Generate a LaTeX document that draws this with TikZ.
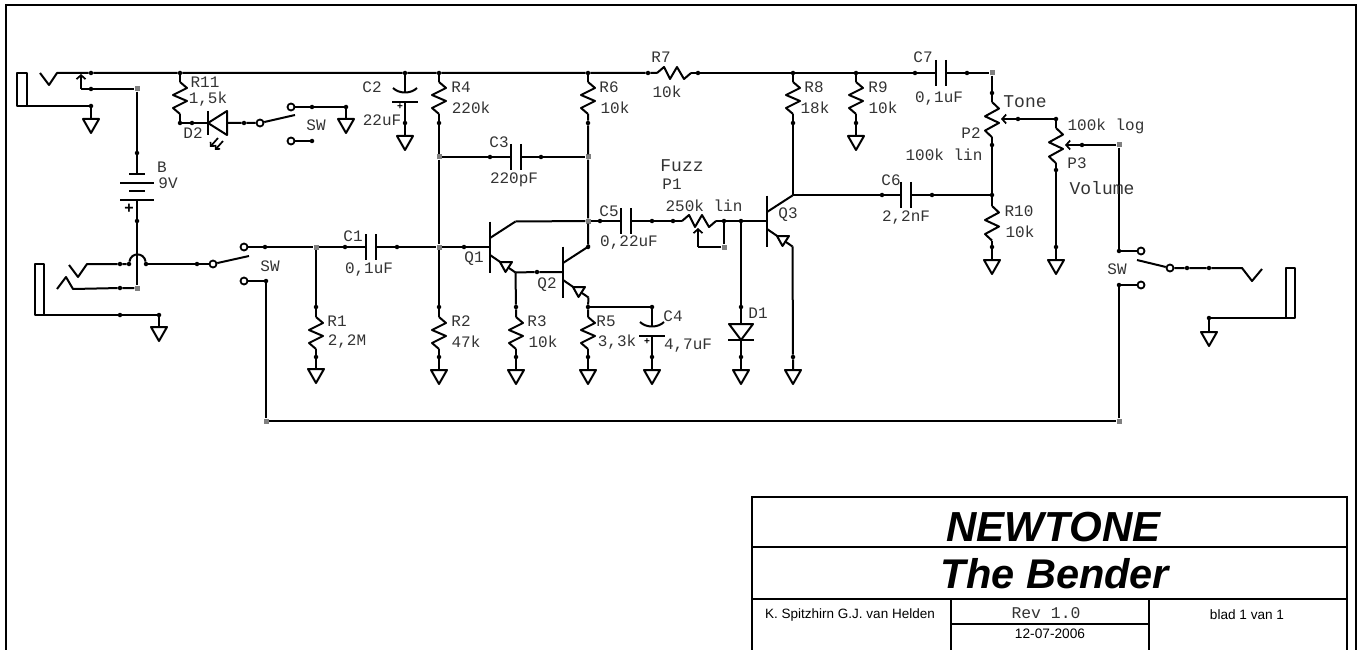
\documentclass[tikz,border=0pt]{standalone}
\usepackage{fontspec}
\setmainfont{Liberation Sans}
\newfontfamily\labfont{Liberation Mono}
\usetikzlibrary{arrows.meta}
\tikzset{
  wire/.style={line width=2pt,line join=round},
  frameline/.style={line width=2pt},
  wiper/.style={wire,-{Straight Barb[length=4pt,width=9pt,line width=1.7pt]}},
  tic/.style={circle,fill=black,inner sep=0pt,minimum size=4.5pt},
  junc/.style={rectangle,fill=black!50,inner sep=0pt,minimum size=5pt},
  cont/.style={circle,draw,fill=white,line width=1.8pt,inner sep=0pt,minimum size=7pt},
  tag/.style={inner sep=0pt,text=black!80,font=\labfont\fontsize{16}{16}\selectfont},
  bigtag/.style={tag,font=\labfont\fontsize{18}{18}\selectfont},
  polar/.style={inner sep=0pt,font=\bfseries\fontsize{10}{10}\selectfont},
  pics/resv/.style={code={
    \coordinate (-a) at (0,0); \coordinate (-b) at (0,32);
    \draw[wire] (-a) -- (7,6) -- (-7,13) -- (7,19) -- (-7,26) -- (-b); }},
  pics/resh/.style={code={
    \coordinate (-a) at (0,0); \coordinate (-b) at (34,0);
    \draw[wire] (-a) -- (7,-6) -- (13,6) -- (20,-6) -- (27,6) -- (-b); }},
  pics/caph/.style={code={
    \coordinate (-a) at (0,0); \coordinate (-b) at (10,0);
    \draw[wire] (0,-13) -- (0,13) (10,-13) -- (10,13); }},
  pics/capel/.style={code={
    \coordinate (-a) at (0,0); \coordinate (-b) at (0,9);
    \draw[wire] (-12,-5) .. controls (-6,1) and (6,1) .. (12,-5);
    \draw[wire] (-13,9) -- (13,9); }},
  pics/gnd/.style={code={
    \coordinate (-a) at (0,0);
    \draw[wire] (-a) -- (-8,0) -- (0,14) -- (8,0) -- cycle; }},
  pics/npn/.style={code={
    \coordinate (-b) at (0,0); \coordinate (-c) at (25.5,-25.5); \coordinate (-e) at (25.5,25.5);
    \draw[wire] (0,-25.5) -- (0,25.5);
    \draw[wire] (0,-9) -- (-c);
    \draw[wire] (0,8) -- (-e);
    \draw[wire,fill=white] (10,15) -- (22,15) -- (15.5,25) -- cycle; }},
  pics/diodev/.style={code={
    \coordinate (-a) at (0,0); \coordinate (-b) at (0,16);
    \draw[wire] (-12,0) -- (12,0) -- (0,16) -- cycle;
    \draw[wire] (-13,16) -- (13,16); }},
  pics/ledh/.style={code={
    \coordinate (-a) at (0,0); \coordinate (-b) at (19,0);
    \draw[wire] (0,-12) -- (0,12);
    \draw[wire] (0,0) -- (19,-12) -- (19,12) -- cycle;
    \draw[wire,line width=1.7pt,-{Straight Barb[length=3pt,width=6pt]}] (10,15) -- (2,24);
    \draw[wire,line width=1.7pt,-{Straight Barb[length=3pt,width=6pt]}] (15,18) -- (7,27); }},
  pics/batt/.style={code={
    \coordinate (-a) at (0,0); \coordinate (-b) at (0,26);
    \draw[wire] (-8,0) -- (8,0) (-17,9) -- (17,9) (-8,17) -- (8,17) (-17,26) -- (17,26); }}
}
\begin{document}
\begin{tikzpicture}[x=1pt,y=-1pt]
  \useasboundingbox (0,0) rectangle (1358,650);
  \draw[frameline,line width=2.2pt] (6,660) -- (6,5) -- (1356,5) -- (1356,660);
  % title block
  \draw[frameline] (752,660) -- (752,497) -- (1347,497) -- (1347,660);
  \draw[frameline] (752,547) -- (1347,547) (752,599) -- (1347,599);
  \draw[frameline] (951,599) -- (951,660) (1149,599) -- (1149,660) (951,624) -- (1149,624);
  \node[inner sep=0pt,font=\bfseries\itshape\fontsize{42}{42}\selectfont] (newtone) at (1053.5,527) {NEWTONE};
  \node[inner sep=0pt,font=\bfseries\itshape\fontsize{41.5}{42}\selectfont] (bender) at (1055,574) {The Bender};
  \node[inner sep=0pt,font=\fontsize{13.5}{13.5}\selectfont] (names) at (850,615) {K. Spitzhirn G.J. van Helden};
  \node[inner sep=0pt,font=\fontsize{13.7}{13.7}\selectfont] (date) at (1050,634) {12-07-2006};
  \node[inner sep=0pt,font=\fontsize{13.6}{13.6}\selectfont] (blad) at (1247,615) {blad 1 van 1};
  \node[tag,font=\labfont\fontsize{16.4}{16.4}\selectfont] (rev) at (1046,613) {Rev 1.0};
  % parts
  \foreach \n/\x/\y in {R11/180/82,R4/439/82,R6/588/82,R8/793/82,R9/856/82,R1/316/317,R2/439/317,R3/516/317,R5/588/317}
    \pic (\n) at (\x,\y) {resv};
  \pic[yscale=1.08] (R10) at (992,206) {resv};
  \pic[yscale=1.1] (P2) at (992,102) {resv};
  \pic[yscale=1.1] (P3) at (1056,128) {resv};
  \pic (R7) at (657,73) {resh};
  \pic (P1) at (682,221) {resh};
  \foreach \n/\x/\y in {C1/366/247,C3/511/157,C5/621/221,C6/901/195,C7/936/73}
    \pic (\n) at (\x,\y) {caph};
  \pic (C2) at (405,93) {capel};
  \pic (C4) at (652,327) {capel};
  \pic (Q1) at (490,247) {npn};
  \pic (Q2) at (563,272) {npn};
  \pic (Q3) at (767,221) {npn};
  \pic (D1) at (741,324) {diodev};
  \pic (D2) at (208,123) {ledh};
  \pic (B) at (137,174) {batt};
  \foreach \n/\x/\y in {g1/91/119,g2/159/327,g3/346/119,g4/405/136,g5/316/369,g6/439/370,g7/516/370,g8/588/370,
      g9/652/370,g10/741/370,g11/793/370,g12/856/136,g13/992/260,g14/1056/260,g15/1209/332}
    \pic (\n) at (\x,\y) {gnd};
  % points on the wires
  \foreach \n/\x/\y in {ta1/91/73,ta2/91/89,ta3/91/106,tb1/137/153,tb2/137/221,tg/120/315,tg2/159/315,th1/120/264,th2/129/264,th3/146/264,
      th4/197/264,ti/120/288,tj1/265/247,tj2/345/247,tj3/397/247,tk/266/281,tm/1119/285,tr1a/316/307,tr1b/316/357,
      t11a/180/73,t11b/180/123,t11c/192/123,tl1/244/123,tl2/312/107,tl3/346/107,tl4/312/141,tc2a/405/73,tc2b/405/123,
      t4a/439/73,t4b/439/123,t2a/439/307,t2b/439/357,tc3a/490/157,tc3b/541/157,t6a/588/73,t6b/588/123,tq2c/588/247,
      tq1b/464/247,t3a/516/307,t3b/516/357,tq2b/537/272,t5a/588/307,t5b/588/357,tc4a/652/307,tc4b/652/357,
      tc5a/600/221,tc5b/652/221,tp1a/673/221,tp1b/724/221,td1/741/221,td1a/741/307,td1b/741/357,
      t7a/648/73,t7b/698/73,t8a/793/73,t8b/793/123,t9a/856/73,t9b/856/123,tc7a/915/73,tc7b/967/73,
      tc6a/882/195,tc6b/932/195,tp2a/992/93,tp2b/992/145,tr10/992/195,tr10b/992/247,tw2a/1056/119,tw2b/1018/119,
      tp3b/1056/170,tp3c/1056/247,tw3/1082/145,tsw/1119/251,tq3/793/357,ts1/1187/268,ts2/1209/268,ts3/1209/318}
    \node[tic] (\n) at (\x,\y) {};
  \foreach \n/\x/\y in {jb1/137/89,jb2/137/288,jr1/316/247,jq1/439/247,jc3a/439/157,jc3b/588/157,jq1c/588/221,
      jp1/724/247,jc7/992/73,jw3/1119/145,jka/266/421,jkb/1119/421}
    \node[junc] (\n) at (\x,\y) {};
  \foreach \n/\x/\y in {swa/213/264,swb/244/247,swc/244/281,swd/260/123,swe/291/107,swf/291/141,
      swg/1141/251,swh/1141/285,swi/1170/268}
    \node[cont] (\n) at (\x,\y) {};
  % free ends and corners
  \foreach \n/\x/\y in {va/40/73,vb/49/85,vc/57/73,wa/81/89,wb/81/74,vd/69/265,ve/78/277,vf/87/264,vg/57/289,vh/66/277,vi/73/289,
      arma/249/256,armb/295/115,armc/1137/260,cq/793/195,wp/698/247,wq/698/228,wr/1001/119,ws/1065/145,
      vj/1242/268,vk/1252/281,vl/1262/269,ja/17/73,jb/27/106,jc/35/264,jd/43.5/315,je/1286/268,jf/1295/318}
    \coordinate (\n) at (\x,\y);
  \begin{scope}[wire]
    % sleeves
    \draw (ja) rectangle (jb);
    \draw (jc) rectangle (jd);
    \draw (je) rectangle (jf);
    % +9V rail
    \draw (va) -- (vb) -- (vc) -- (ta1) -- (t11a) -- (tc2a) -- (t4a) -- (t6a) -- (t7a) -- (R7-a);
    \draw (R7-b) -- (t7b) -- (t8a) -- (t9a) -- (tc7a) -- (C7-a);
    \draw (C7-b) -- (tc7b) -- (jc7) -- (tp2a) -- (P2-a);
    \draw (jb -| ja) -- (ta3) -- (g1-a);
    \draw (wa) -- (ta2) -- (jb1) -- (tb1) -- (B-a);
    \draw (B-b) -- (tb2) -- (jb2);
    % input
    \draw (jd -| jc) -- (tg) -- (tg2) -- (g2-a);
    \draw (vd) -- (ve) -- (vf) -- (th1) -- (th2);
    \draw (th2) .. controls (131,252) and (144,252) .. (th3);
    \draw (th3) -- (th4) -- (swa);
    \draw (vg) -- (vh) -- (vi) -- (ti) -- (jb2);
    \draw (swa) -- (arma);
    \draw (swb) -- (tj1) -- (jr1) -- (tj2) -- (C1-a);
    \draw (C1-b) -- (tj3) -- (jq1);
    \draw (swc) -- (tk) -- (jka) -- (jkb) -- (tm) -- (swh);
    \draw (jr1) -- (tr1a) -- (R1-a);
    \draw (R1-b) -- (tr1b) -- (g5-a);
    % led
    \draw (t11a) -- (R11-a);
    \draw (R11-b) -- (t11b) -- (t11c) -- (D2-a);
    \draw (D2-b) -- (tl1) -- (swd) -- (armb);
    \draw (swe) -- (tl2) -- (tl3) -- (g3-a);
    \draw (swf) -- (tl4);
    \draw (tc2a) -- (C2-a);
    \draw (C2-b) -- (tc2b) -- (g4-a);
    % first stages
    \draw (t4a) -- (R4-a);
    \draw (R4-b) -- (t4b) -- (jc3a) -- (jq1) -- (t2a) -- (R2-a);
    \draw (R2-b) -- (t2b) -- (g6-a);
    \draw (jc3a) -- (tc3a) -- (C3-a);
    \draw (C3-b) -- (tc3b) -- (jc3b);
    \draw (t6a) -- (R6-a);
    \draw (R6-b) -- (t6b) -- (jc3b) -- (jq1c) -- (tq2c) -- (Q2-c);
    \draw (jq1) -- (tq1b) -- (Q1-b);
    \draw (Q1-c) -- (jq1c);
    \draw (Q1-e) -- (t3a) -- (R3-a);
    \draw (R3-b) -- (t3b) -- (g7-a);
    \draw (Q1-e) -- (tq2b) -- (Q2-b);
    \draw (Q2-e) -- (t5a) -- (R5-a);
    \draw (R5-b) -- (t5b) -- (g8-a);
    \draw (t5a) -- (tc4a) -- (C4-a);
    \draw (C4-b) -- (tc4b) -- (g9-a);
    % fuzz
    \draw (jq1c) -- (tc5a) -- (C5-a);
    \draw (C5-b) -- (tc5b) -- (tp1a) -- (P1-a);
    \draw (P1-b) -- (tp1b) -- (td1) -- (Q3-b);
    \draw (jp1) -- (tp1b);
    \draw (jp1) -- (wp);
    \draw (td1) -- (td1a) -- (D1-a);
    \draw (D1-b) -- (td1b) -- (g10-a);
    % output
    \draw (t8a) -- (R8-a);
    \draw (R8-b) -- (t8b) -- (cq) -- (tc6a) -- (C6-a);
    \draw (Q3-c) -- (cq);
    \draw (C6-b) -- (tc6b) -- (tr10);
    \draw (Q3-e) -- (tq3) -- (g11-a);
    \draw (t9a) -- (R9-a);
    \draw (R9-b) -- (t9b) -- (g12-a);
    \draw (P2-b) -- (tp2b) -- (tr10) -- (R10-a);
    \draw (R10-b) -- (tr10b) -- (g13-a);
    \draw (tw2a) -- (P3-a);
    \draw (P3-b) -- (tp3b) -- (tp3c) -- (g14-a);
    \draw (jw3) -- (tsw) -- (swg);
    \draw (swi) -- (armc);
    \draw (swi) -- (ts1) -- (ts2) -- (vj) -- (vk) -- (vl);
    \draw (jf -| je) -- (ts3) -- (g15-a);
  \end{scope}
  \begin{scope}[wiper]
    \draw (wa) -- (wb);
    \draw (wp) -- (wq);
    \draw (tw2a) -- (tw2b) -- (wr);
    \draw (jw3) -- (tw3) -- (ws);
  \end{scope}
  % labels
  \foreach \n/\x/\y/\t in {lR11/205/82/R11,vR11/208/99/{1,5k},lD2/193/133/D2,lSWa/316/125/SW,lC2/372/87/C2,vC2/382/120/22uF,
      lB/162/167/B,vB/168/183/9V,lSWb/270/266/SW,lC1/353/236/C1,vC1/369/270/{0,1uF},lR1/337/321/R1,vR1/347/342/{2,2M},
      lR4/461/87/R4,vR4/471/108/220k,lR2/461/321/R2,vR2/466/342/47k,lC3/499/142/C3,vC3/514/180/220pF,
      lR6/609/87/R6,vR6/615/108/10k,lQ1/474/259/Q1,lQ2/547/285/Q2,lQ3/788/215/Q3,lR3/537/321/R3,vR3/543/342/10k,
      lR5/606/321/R5,vR5/617/342/{3,3k},lC4/673/316/C4,vC4/688/346/{4,7uF},lC5/609/211/C5,vC5/629/243/{0,22uF},
      lP1/672/184/P1,vP1/704/206/250k lin,lD1/758/313/D1,lR7/661/57/R7,vR7/667/92/10k,lR8/814/87/R8,vR8/815/108/18k,
      lR9/878/87/R9,vR9/883/108/10k,lC7/923/57/C7,vC7/939/99/{0,1uF},lC6/891/180/C6,vC6/906/218/{2,2nF},
      lR10/1019/211/R10,vR10/1020/232/10k,lP2/971/133/P2,vP2/944/155/100k lin,vP3/1106/126/100k log,lP3/1077/163/P3,lSWc/1117/269/SW}
    \node[tag] (\n) at (\x,\y) {\t};
  \foreach \n/\x/\y/\t in {lFuzz/682/166/Fuzz,lTone/1025/102/Tone,lVol/1102/188/Volume}
    \node[bigtag] (\n) at (\x,\y) {\t};
  \node[polar,font=\bfseries\fontsize{16}{16}\selectfont] (plusB) at (129,209) {+};
  \node[polar] (plusC2) at (400,107) {+};
  \node[polar] (plusC4) at (647,342) {+};
\end{tikzpicture}
\end{document}
